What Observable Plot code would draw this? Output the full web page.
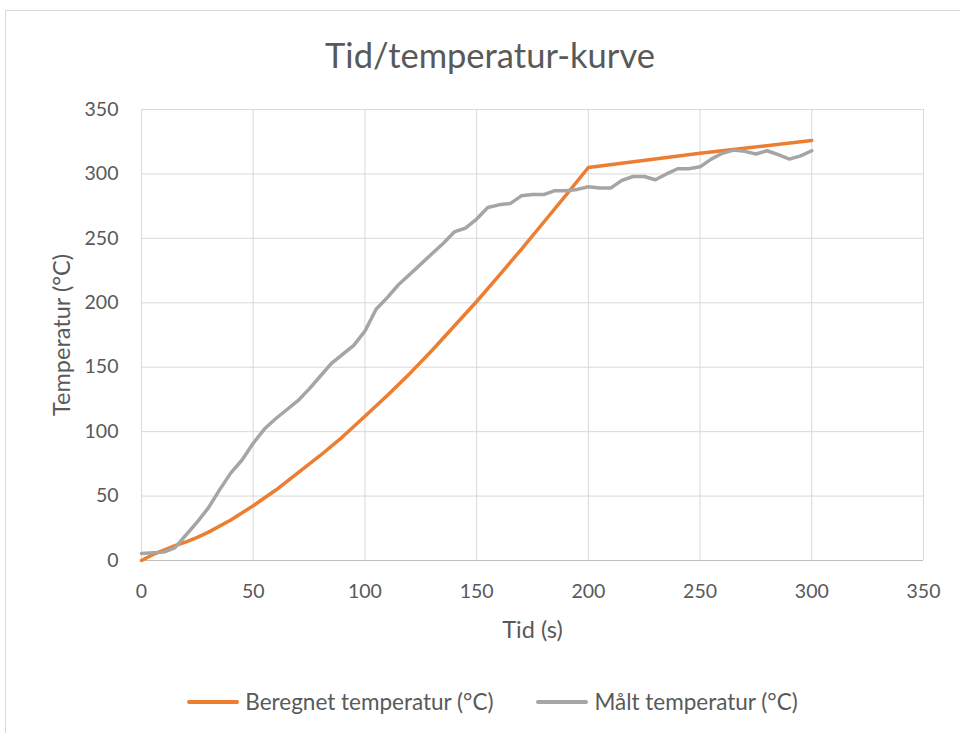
<!DOCTYPE html>
<html>
<head>
<meta charset="utf-8">
<script src="https://cdn.jsdelivr.net/npm/d3@7"></script>
<script src="https://cdn.jsdelivr.net/npm/@observablehq/plot@0.6"></script>
<style>
  body { margin: 0; background: #fff; font-family: Lato, "Open Sans", sans-serif; color: #595959; }
  #frame { position: absolute; left: 5px; top: 10px; width: 1000px; height: 800px;
           border-left: 1px solid #D9D9D9; border-top: 1px solid #D9D9D9; box-sizing: border-box; }
  #title { position: absolute; top: 34px; left: 0; width: 980px; text-align: center;
           font-size: 34.5px; line-height: 42px; color: #595959; }
  #chart { position: absolute; left: 0; top: 80px; }
  #legend { position: absolute; top: 687px; left: 0; width: 985px; display: flex; justify-content: center;
            gap: 43px; font-size: 22.5px; line-height: 30px; color: #595959; }
  .item { display: flex; align-items: center; }
  .swatch { width: 52px; height: 4px; margin-right: 6px; border-radius: 2px; }
</style>
</head>
<body>
<div id="frame"></div>
<div id="title">Tid/temperatur-kurve</div>
<div id="chart"></div>
<div id="legend"></div>
<script>
// Beregnet temperatur (calculated), seconds -> °C
const calcTime = [0, 5, 10, 15, 20, 25, 30, 40, 50, 60, 70, 80, 90, 100, 110, 120, 130, 140, 150, 160, 170, 180, 190, 200, 250, 300];
const calcTemp = [0, 4.5, 8, 11.5, 14.5, 18, 22, 31.5, 42.5, 54.5, 68, 81.5, 96, 112, 128, 145, 163, 182, 201, 221, 241.5, 262.5, 283.5, 305, 316, 326];

// Målt temperatur (measured), sampled every 5 s
const measTime = [0, 5, 10, 15, 20, 25, 30, 35, 40, 45, 50, 55, 60, 65, 70, 75, 80, 85, 90, 95,
  100, 105, 110, 115, 120, 125, 130, 135, 140, 145, 150, 155, 160, 165, 170, 175, 180, 185, 190, 195,
  200, 205, 210, 215, 220, 225, 230, 235, 240, 245, 250, 255, 260, 265, 270, 275, 280, 285, 290, 295, 300];
const measTemp = [5.5, 6, 6.5, 10, 20, 30, 41, 55, 68, 78, 91, 102, 110, 117, 124, 133, 143, 153, 160, 167,
  178, 195, 204, 214, 222, 230, 238, 246, 255, 258, 265, 274, 276, 277, 283, 284, 284, 287, 287, 288,
  290, 289, 289, 295, 298, 298, 295.5, 300, 304, 304, 305.5, 311.5, 316, 318.5, 317.5, 315.5, 318, 315, 311.5, 314, 318];

const ticks = [0, 50, 100, 150, 200, 250, 300, 350];

const seriesNames = ["Beregnet temperatur (°C)", "Målt temperatur (°C)"];
const seriesColors = ["#ED7D31", "#A5A5A5"];

const calc = calcTime.map((t, i) => ({t, v: calcTemp[i]}));
const meas = measTime.map((t, i) => ({t, v: measTemp[i]}));

const chart = Plot.plot({
  width: 960,
  height: 580,
  marginLeft: 141,
  marginRight: 37,
  marginTop: 29,
  marginBottom: 100,
  style: {fontFamily: "Lato, 'Open Sans', sans-serif", fontSize: "19.5px", color: "#595959", background: "transparent"},
  x: {domain: [0, 350], ticks: ticks, label: null},
  y: {domain: [0, 350], ticks: ticks, label: null},
  marks: [
    Plot.gridX(ticks, {stroke: "#D9D9D9", strokeOpacity: 1}),
    Plot.gridY(ticks, {stroke: "#D9D9D9", strokeOpacity: 1}),
    Plot.ruleY([0], {stroke: "#BFBFBF", strokeWidth: 1.2}),
    Plot.line(calc, {x: "t", y: "v", stroke: seriesColors[0], strokeWidth: 3.5, strokeLinejoin: "round", strokeLinecap: "round"}),
    Plot.line(meas, {x: "t", y: "v", stroke: seriesColors[1], strokeWidth: 3.5, strokeLinejoin: "round", strokeLinecap: "round"}),
    Plot.axisX(ticks, {tickSize: 0, tickPadding: 24, fill: "#595959", label: null}),
    Plot.axisY(ticks, {tickSize: 0, tickPadding: 23, fill: "#595959", label: null}),
    Plot.text(["Tid (s)"], {frameAnchor: "bottom", dy: 77, fontSize: 23.5, fill: "#595959"}),
    Plot.text(["Temperatur (°C)"], {frameAnchor: "left", textAnchor: "middle", dx: -79, rotate: -90, fontSize: 23.5, fill: "#595959"})
  ]
});
document.getElementById("chart").appendChild(chart);

const legend = document.getElementById("legend");
seriesNames.forEach((name, i) => {
  const item = document.createElement("div");
  item.className = "item";
  const sw = document.createElement("span");
  sw.className = "swatch";
  sw.style.background = seriesColors[i];
  const label = document.createElement("span");
  label.textContent = name;
  item.appendChild(sw);
  item.appendChild(label);
  legend.appendChild(item);
});
</script>
</body>
</html>
